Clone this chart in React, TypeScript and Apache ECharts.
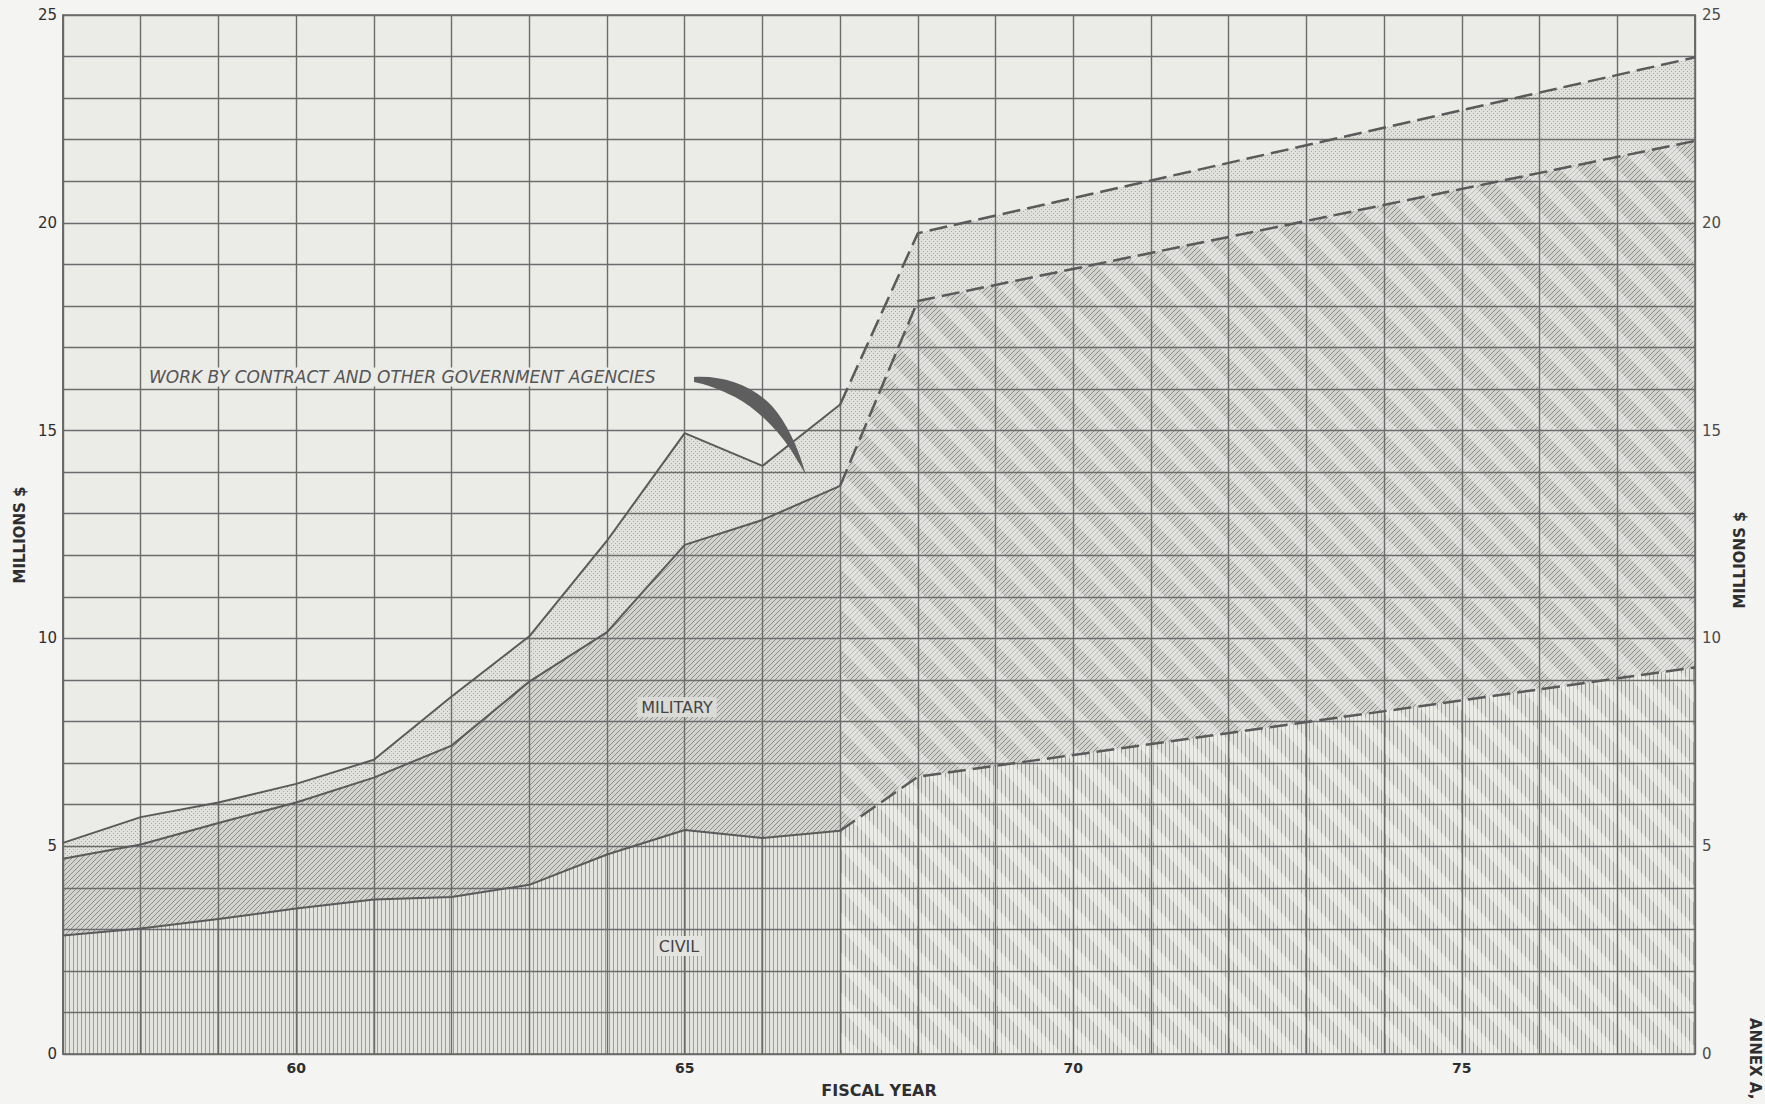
import React, { useEffect, useRef } from 'react';
import * as echarts from 'echarts';

// ---- data (boundaries, millions $) ----
const actualYears = [57, 58, 59, 60, 61, 62, 63, 64, 65, 66, 67];
const civilActual = [2.85, 3.02, 3.25, 3.5, 3.72, 3.78, 4.07, 4.8, 5.39, 5.2, 5.37];
const militaryTopActual = [4.7, 5.04, 5.56, 6.05, 6.65, 7.42, 8.96, 10.15, 12.25, 12.85, 13.67];
const totalActual = [5.08, 5.7, 6.05, 6.5, 7.08, 8.6, 10.05, 12.35, 14.94, 14.15, 15.63];

const projYears = [67, 68, 78];
const civilProj = [5.37, 6.67, 9.3];
const militaryTopProj = [13.67, 18.12, 21.97];
const totalProj = [15.63, 19.75, 23.98];

const xTickLabels = ['60', '65', '70', '75'];
const yTickLabels = ['0', '5', '10', '15', '20', '25'];

const ARROW_D =
  'M694,377 C722,375 752,385 772,406 C787,423 798,447 806,475 L791,450 C776,428 757,409 735,397 C719,389 705,384 694,382 Z';
try {
  echarts.graphic.registerShape('annArrow', echarts.graphic.extendPath(ARROW_D, {}) as any);
} catch (e) {
  /* already registered */
}

const FONT = '"DejaVu Sans", "Liberation Sans", sans-serif';

function tile(w: number, h: number, bg: string | null, draw: (ctx: CanvasRenderingContext2D) => void) {
  const c = document.createElement('canvas');
  c.width = w;
  c.height = h;
  const ctx = c.getContext('2d')!;
  if (bg) {
    ctx.fillStyle = bg;
    ctx.fillRect(0, 0, w, h);
  }
  draw(ctx);
  return { image: c.toDataURL(), imageWidth: w, imageHeight: h, repeat: 'repeat' };
}

const pts = (xs: number[], ys: number[]) => xs.map((x, i) => [x, ys[i]]);
const joined = (ax: number[], ay: number[], px: number[], py: number[]) => [
  ...pts(ax, ay),
  ...pts(px.slice(1), py.slice(1)),
];

export default function App() {
  const ref = useRef<HTMLDivElement>(null);

  useEffect(() => {
    if (!ref.current) return;
    const chart = echarts.init(ref.current, undefined, { renderer: 'svg', width: 1765, height: 1104 });

    const stipple = tile(4, 4, '#e0e0dd', (ctx) => {
      ctx.fillStyle = '#aaaaa7';
      ctx.fillRect(1, 1, 1, 1);
      ctx.fillRect(3, 3, 1, 1);
    });
    const hatch = tile(5, 5, '#d2d2cf', (ctx) => {
      ctx.strokeStyle = '#8c8c89';
      ctx.lineWidth = 1;
      for (const o of [-5, 0, 5]) {
        ctx.beginPath();
        ctx.moveTo(o - 1, 6);
        ctx.lineTo(o + 6, -1);
        ctx.stroke();
      }
    });
    const vlines = tile(4, 4, '#e3e3e0', (ctx) => {
      ctx.fillStyle = '#9c9c99';
      ctx.fillRect(1, 0, 1, 4);
    });
    const stripes = tile(40, 40, null, (ctx) => {
      ctx.strokeStyle = 'rgba(246,246,244,0.45)';
      ctx.lineWidth = 12;
      for (const o of [-40, 0, 40]) {
        ctx.beginPath();
        ctx.moveTo(o - 10, -10);
        ctx.lineTo(o + 50, 50);
        ctx.stroke();
      }
    });

    const fill = (data: number[][], color: any) => ({
      type: 'line',
      data,
      symbol: 'none',
      silent: true,
      z: 2,
      lineStyle: { width: 0 },
      areaStyle: { color, opacity: 1 },
    });
    const edge = (data: number[][], dashed: boolean) => ({
      type: 'line',
      data,
      symbol: 'none',
      silent: true,
      z: 6,
      lineStyle: {
        color: '#5a5a5a',
        width: dashed ? 2.5 : 2,
        type: dashed ? [18, 7] : 'solid',
      },
    });

    const axisText = { color: '#2e2e2e', fontSize: 15, fontFamily: FONT };

    chart.setOption({
      animation: false,
      backgroundColor: '#f4f4f2',
      grid: {
        left: 63,
        right: 70,
        top: 15,
        bottom: 50,
        show: true,
        backgroundColor: '#ebebe8',
        borderColor: '#666',
        borderWidth: 1.5,
      },
      xAxis: {
        type: 'value',
        min: 57,
        max: 78,
        interval: 1,
        z: 4,
        axisLine: { show: true, lineStyle: { color: '#666', width: 1.5 } },
        axisTick: { show: false },
        splitLine: { show: true, lineStyle: { color: '#6c6c6c', width: 1.4 } },
        axisLabel: {
          ...axisText,
          fontSize: 14,
          fontWeight: 'bold',
          margin: 7,
          formatter: (v: number) => (xTickLabels.includes(String(v)) ? String(v) : ''),
        },
        name: 'FISCAL YEAR',
        nameLocation: 'middle',
        nameGap: 28,
        nameTextStyle: { color: '#2e2e2e', fontSize: 16, fontWeight: 'bold', fontFamily: FONT },
      },
      yAxis: [
        {
          type: 'value',
          min: 0,
          max: 25,
          interval: 1,
          position: 'left',
          z: 4,
          axisLine: { show: true, lineStyle: { color: '#666', width: 1.5 } },
          axisTick: { show: false },
          splitLine: { show: true, lineStyle: { color: '#6c6c6c', width: 1.4 } },
          axisLabel: {
            ...axisText,
            margin: 6,
            formatter: (v: number) => (yTickLabels.includes(String(v)) ? String(v) : ''),
          },
        },
        {
          type: 'value',
          min: 0,
          max: 25,
          interval: 1,
          position: 'right',
          z: 4,
          axisLine: { show: true, lineStyle: { color: '#666', width: 1.5 } },
          axisTick: { show: false },
          splitLine: { show: false },
          axisLabel: {
            ...axisText,
            color: '#4a4a4a',
            margin: 7,
            formatter: (v: number) => (yTickLabels.includes(String(v)) ? String(v) : ''),
          },
        },
      ],
      series: [
        fill(joined(actualYears, totalActual, projYears, totalProj), stipple),
        fill(joined(actualYears, militaryTopActual, projYears, militaryTopProj), hatch),
        fill(joined(actualYears, civilActual, projYears, civilProj), vlines),
        fill(pts(projYears, militaryTopProj), stripes),
        edge(pts(actualYears, totalActual), false),
        edge(pts(actualYears, militaryTopActual), false),
        edge(pts(actualYears, civilActual), false),
        edge(pts(projYears, totalProj), true),
        edge(pts(projYears, militaryTopProj), true),
        edge(pts(projYears, civilProj), true),
      ],
      graphic: [
        {
          type: 'text',
          x: 147,
          y: 377,
          z: 20,
          style: {
            text: 'WORK BY CONTRACT AND OTHER GOVERNMENT AGENCIES',
            font: `italic 17px ${FONT}`,
            fill: '#555',
            verticalAlign: 'middle',
            align: 'left',
            backgroundColor: '#ebebe8',
            padding: [1, 2],
          },
        },
        { type: 'annArrow', x: 0, y: 0, z: 20, style: { fill: '#5e5e5e' } },
        {
          type: 'text',
          x: 677,
          y: 707,
          z: 20,
          style: {
            text: 'MILITARY',
            font: `16px ${FONT}`,
            fill: '#444',
            align: 'center',
            verticalAlign: 'middle',
            backgroundColor: '#dadad7',
            padding: [2, 4],
          },
        },
        {
          type: 'text',
          x: 679,
          y: 946,
          z: 20,
          style: {
            text: 'CIVIL',
            font: `16px ${FONT}`,
            fill: '#444',
            align: 'center',
            verticalAlign: 'middle',
            backgroundColor: '#e3e3e0',
            padding: [2, 4],
          },
        },
        {
          type: 'text',
          x: 20,
          y: 535,
          rotation: Math.PI / 2,
          z: 20,
          style: {
            text: 'MILLIONS $',
            font: `bold 15px ${FONT}`,
            fill: '#2e2e2e',
            align: 'center',
            verticalAlign: 'middle',
          },
        },
        {
          type: 'text',
          x: 1740,
          y: 560,
          rotation: Math.PI / 2,
          z: 20,
          style: {
            text: 'MILLIONS $',
            font: `bold 15px ${FONT}`,
            fill: '#2e2e2e',
            align: 'center',
            verticalAlign: 'middle',
          },
        },
        {
          type: 'text',
          x: 1755,
          y: 1018,
          rotation: -Math.PI / 2,
          z: 20,
          style: {
            text: 'ANNEX A,',
            font: `bold 15px ${FONT}`,
            fill: '#2e2e2e',
            align: 'left',
            verticalAlign: 'middle',
          },
        },
      ],
    });

    return () => chart.dispose();
  }, []);

  return (
    <div
      ref={ref}
      style={{ position: 'fixed', left: 0, top: 0, width: 1765, height: 1104, background: '#f4f4f2' }}
    />
  );
}
